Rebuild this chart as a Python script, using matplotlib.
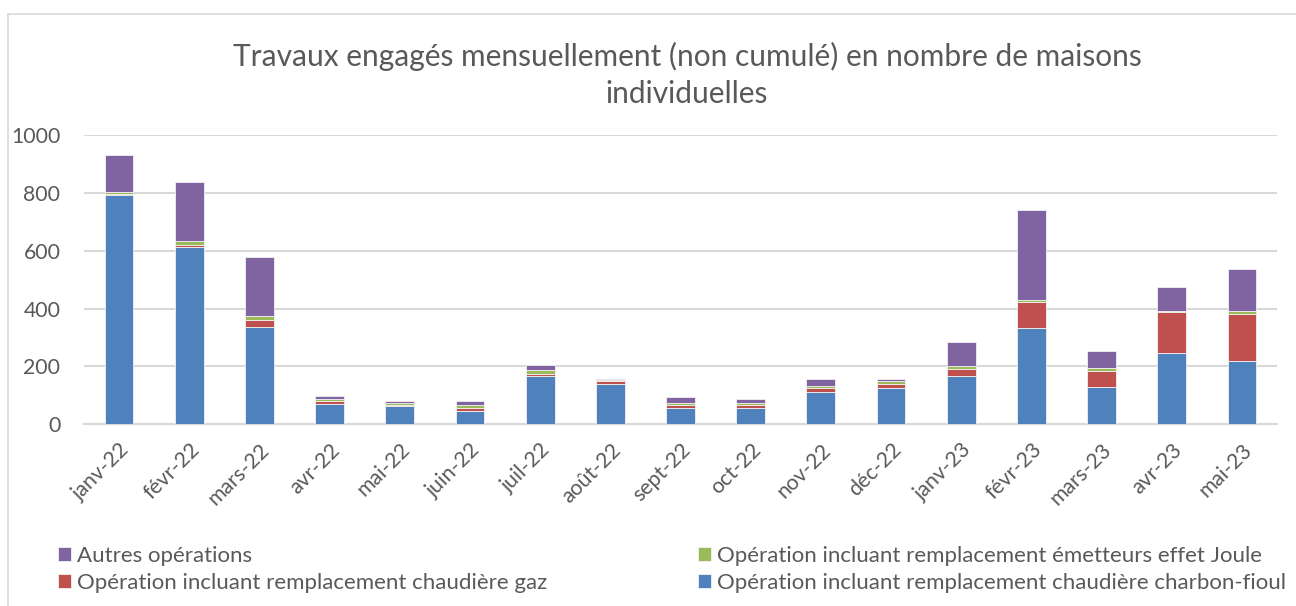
import matplotlib
matplotlib.use("Agg")
import matplotlib.pyplot as plt
from matplotlib.patches import Rectangle
import numpy as np

plt.rcParams['font.family'] = ['Lato', 'DejaVu Sans']

months = ["janv-22", "févr-22", "mars-22", "avr-22", "mai-22", "juin-22", "juil-22",
          "août-22", "sept-22", "oct-22", "nov-22", "déc-22", "janv-23", "févr-23",
          "mars-23", "avr-23", "mai-23"]
charbon_fioul = [792, 612, 338, 69, 64, 47, 168, 141, 57, 57, 112, 125, 168, 332, 128, 245, 218]
chaudiere_gaz = [5, 9, 23, 11, 3, 10, 7, 10, 8, 10, 14, 15, 23, 91, 57, 142, 163]
effet_joule = [7, 13, 15, 7, 8, 10, 14, 2, 8, 6, 7, 9, 10, 8, 8, 4, 10]
autres = [126, 204, 201, 11, 6, 15, 17, 4, 20, 14, 22, 8, 85, 309, 60, 85, 147]

labels = {
    "autres": "Autres opérations",
    "joule": "Opération incluant remplacement émetteurs effet Joule",
    "gaz": "Opération incluant remplacement chaudière gaz",
    "fioul": "Opération incluant remplacement chaudière charbon-fioul",
}
colors = {"fioul": "#4F81BD", "gaz": "#C0504D", "joule": "#9BBB59", "autres": "#8064A2"}

W, H = 1296, 606
fig = plt.figure(figsize=(W / 100, H / 100), dpi=100)
ax = fig.add_axes([84 / W, 1 - 424.3 / H, (1277 - 84) / W, (424.3 - 135) / H])

x = np.arange(len(months))
bw = 0.41
ek = dict(edgecolor="#F2F2F2", linewidth=0.6)
b1 = ax.bar(x, charbon_fioul, bw, color=colors["fioul"], label=labels["fioul"], zorder=3, **ek)
bottom = np.array(charbon_fioul, dtype=float)
b2 = ax.bar(x, chaudiere_gaz, bw, bottom=bottom, color=colors["gaz"], label=labels["gaz"], zorder=3, **ek)
bottom += chaudiere_gaz
b3 = ax.bar(x, effet_joule, bw, bottom=bottom, color=colors["joule"], label=labels["joule"], zorder=3, **ek)
bottom += effet_joule
b4 = ax.bar(x, autres, bw, bottom=bottom, color=colors["autres"], label=labels["autres"], zorder=3, **ek)

ax.set_xlim(-0.5, len(months) - 0.5)
ax.set_ylim(0, 1000)
ax.set_yticks(np.arange(0, 1001, 200))
ax.yaxis.grid(True, color="#D9D9D9", linewidth=1.5, zorder=0)
ax.set_axisbelow(True)
for s in ["top", "right", "left"]:
    ax.spines[s].set_visible(False)
ax.spines["bottom"].set_color("#D9D9D9")
ax.spines["bottom"].set_linewidth(1.5)
ax.tick_params(axis="both", length=0, labelsize=15.3, labelcolor="#595959")
ax.tick_params(axis="y", pad=17)
ax.set_xticks(x)
ax.set_xticklabels(months, rotation=45, ha="right", rotation_mode="anchor")
ax.tick_params(axis="x", pad=11)

fig.text(687 / W, 1 - 75 / H, "Travaux engagés mensuellement (non cumulé) en nombre de maisons\nindividuelles",
         ha="center", va="center", fontsize=21.5, color="#595959", linespacing=1.36)

# chart border
fig.patches.append(Rectangle((8 / W, -0.01), 1.0, 1 - 14 / H + 0.01, transform=fig.transFigure,
                             fill=False, edgecolor="#D9D9D9", linewidth=1.2))

leg_kw = dict(frameon=False, fontsize=16, labelcolor="#595959", handlelength=0.6, handleheight=0.6,
              handletextpad=0.25, labelspacing=0.3, borderaxespad=0, borderpad=0)
fig.legend([b4, b2], [labels["autres"], labels["gaz"]], loc="upper left",
           bbox_to_anchor=(58 / W, 1 - 546 / H), **leg_kw)
fig.legend([b3, b1], [labels["joule"], labels["fioul"]], loc="upper left",
           bbox_to_anchor=(698 / W, 1 - 546 / H), **leg_kw)

fig.savefig("out.png", dpi=100)
